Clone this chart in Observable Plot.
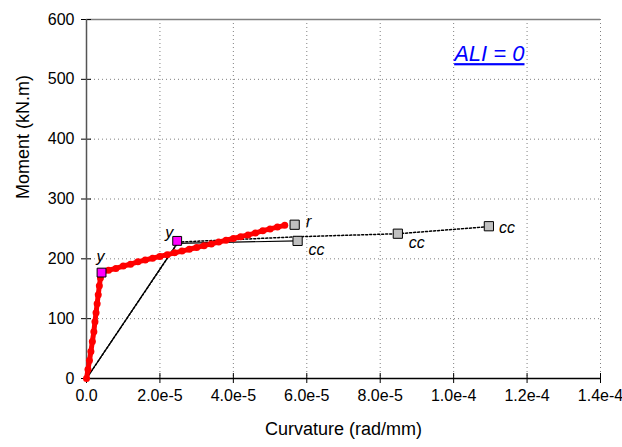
<!DOCTYPE html>
<html>
<head>
<meta charset="utf-8">
<script src="https://cdn.jsdelivr.net/npm/d3@7"></script>
<script src="https://cdn.jsdelivr.net/npm/@observablehq/plot@0.6"></script>
<style>
  body { margin: 0; background: #fff; }
  #chart svg { display: block; }
</style>
</head>
<body>
<div id="chart"></div>
<script>
// Moment–curvature response of the section (ALI = 0)

// Measured response (red dotted curve)
const testCurvature = [0, 0.4e-6, 0.8e-6, 1.2e-6, 1.6e-6, 2.0e-6, 2.3e-6, 2.6e-6, 2.9e-6, 3.2e-6, 3.5e-6, 3.8e-6, 4.1e-6,
  6e-6, 8e-6, 10e-6, 12e-6, 14e-6, 16e-6, 18e-6, 20e-6, 22e-6, 24e-6, 26e-6, 28e-6, 30e-6,
  32e-6, 34e-6, 36e-6, 38e-6, 40e-6, 42e-6, 44e-6, 46e-6, 48e-6, 50e-6, 52e-6, 54e-6];
const testMoment = [0, 15, 30, 45, 62, 78, 95, 110, 125, 140, 155, 168, 177,
  181, 184, 188, 191, 195, 198, 201, 204, 207, 210, 213, 216, 219,
  222, 225, 228, 231, 234, 237, 240, 243, 247, 250, 253, 256];

// Idealised bilinear response (solid black)
const bilinearCurvature = [0, 2.47e-5, 5.75e-5];
const bilinearMoment = [0, 226, 230];

// Analytical prediction (dotted black)
const modelCurvature = [0, 2.5e-5, 5.8e-5, 8.5e-5, 1.1e-4];
const modelMoment = [0, 228, 237, 242, 254];

// Yield points (magenta)
const yieldCurvature = [4.1e-6, 2.47e-5];
const yieldMoment = [177, 230];
const yieldLabels = ["y", "y"];

// Rupture point and concrete crushing points (grey)
const ruptureCurvature = [5.67e-5];
const ruptureMoment = [257];
const ruptureLabels = ["r"];
const crushCurvature = [5.75e-5, 8.48e-5, 1.096e-4];
const crushMoment = [230, 242, 254.5];
const crushLabels = ["cc", "cc", "cc"];

// Axis ticks and titles
const xTicks = [0, 2e-5, 4e-5, 6e-5, 8e-5, 1.0e-4, 1.2e-4, 1.4e-4];
const yTicks = [0, 100, 200, 300, 400, 500, 600];
const xTitle = "Curvature (rad/mm)";
const yTitle = "Moment (kN.m)";
const panelTitle = "ALI = 0";

const zip = (xs, ys, ts) => xs.map((x, i) => ({x, y: ys[i], t: ts ? ts[i] : null}));
const test = zip(testCurvature, testMoment);
const bilinear = zip(bilinearCurvature, bilinearMoment);
const model = zip(modelCurvature, modelMoment);
const yieldPts = zip(yieldCurvature, yieldMoment, yieldLabels);
const rupture = zip(ruptureCurvature, ruptureMoment, ruptureLabels);
const crush = zip(crushCurvature, crushMoment, crushLabels);

const fmtX = d => d === 0 ? "0.0" : d3.format(".1e")(d);
const font = "'Liberation Sans', Arial, sans-serif";
const gridStyle = {stroke: "#808080", strokeWidth: 1, strokeDasharray: "1,3", strokeOpacity: 1};

const chart = Plot.plot({
  width: 622,
  height: 447,
  marginLeft: 86,
  marginRight: 22,
  marginTop: 19,
  marginBottom: 69,
  style: {fontFamily: font, fontSize: "16px", color: "#000", background: "#fff"},
  x: {domain: [0, 1.4e-4]},
  y: {domain: [0, 600]},
  marks: [
    // grid
    Plot.ruleX(xTicks.slice(1), {...gridStyle}),
    Plot.ruleY(yTicks.slice(1, -1), {...gridStyle}),
    Plot.ruleY([600], {stroke: "#808080", strokeWidth: 1.5}),
    // tick marks crossing the axis lines
    Plot.axisX(xTicks, {tickSize: 5, tickFormat: () => "", label: null}),
    Plot.axisX(xTicks, {tickSize: -5, tickFormat: () => "", label: null}),
    Plot.axisY(yTicks, {tickSize: 5, tickFormat: () => "", label: null}),
    Plot.axisY(yTicks, {tickSize: -5, tickFormat: () => "", label: null}),
    // tick labels
    Plot.text(xTicks, {x: d => d, text: fmtX, frameAnchor: "bottom", dy: 22, fontSize: 16, fill: "#000"}),
    Plot.text(yTicks, {y: d => d, text: d => String(d), frameAnchor: "left", textAnchor: "end", dx: -12, fontSize: 16, fill: "#000"}),
    Plot.ruleX([0], {stroke: "#555", strokeWidth: 1.5}),
    Plot.ruleY([0], {stroke: "#000", strokeWidth: 1.5}),
    Plot.text([xTitle], {frameAnchor: "bottom", dy: 56, fontSize: 18, fill: "#000"}),
    Plot.text([yTitle], {frameAnchor: "left", dx: -63, rotate: -90, fontSize: 18, fill: "#000"}),
    // analytical and idealised responses
    Plot.line(model, {x: "x", y: "y", stroke: "#000", strokeWidth: 1.5, strokeDasharray: "2,2"}),
    Plot.line(bilinear, {x: "x", y: "y", stroke: "#000", strokeWidth: 1.2}),
    // measured response
    Plot.line(test, {x: "x", y: "y", stroke: "#ff0000", strokeWidth: 5}),
    Plot.dot(test, {x: "x", y: "y", r: 3.5, fill: "#ff0000", stroke: "none"}),
    // characteristic points
    Plot.dot(yieldPts, {x: "x", y: "y", symbol: "square", r: 5, fill: "#ff00ff", stroke: "#000", strokeWidth: 1}),
    Plot.dot(rupture, {x: "x", y: "y", symbol: "square", r: 5.2, fill: "#c0c0c0", stroke: "#000", strokeWidth: 1}),
    Plot.dot(crush, {x: "x", y: "y", symbol: "square", r: 5.2, fill: "#c0c0c0", stroke: "#000", strokeWidth: 1}),
    Plot.text(yieldPts.slice(0, 1), {x: "x", y: "y", text: "t", dx: -1, dy: -16, fontStyle: "italic", fontSize: 16}),
    Plot.text(yieldPts.slice(1), {x: "x", y: "y", text: "t", dx: -8, dy: -8, fontStyle: "italic", fontSize: 16}),
    Plot.text(rupture, {x: "x", y: "y", text: "t", dx: 14, dy: -3, fontStyle: "italic", fontSize: 16}),
    Plot.text(crush.slice(0, 2), {x: "x", y: "y", text: "t", dx: 19, dy: 9, fontStyle: "italic", fontSize: 16}),
    Plot.text(crush.slice(2), {x: "x", y: "y", text: "t", dx: 10, dy: 2, textAnchor: "start", fontStyle: "italic", fontSize: 16}),
    // panel title
    Plot.text([panelTitle], {frameAnchor: "top-right", dx: -76, dy: 26, fontSize: 22, fontStyle: "italic",
      fill: "#0000ff", className: "ali-title"})
  ]
});

d3.select(chart).selectAll(".ali-title text").style("text-decoration", "underline");
document.getElementById("chart").appendChild(chart);
</script>
</body>
</html>
